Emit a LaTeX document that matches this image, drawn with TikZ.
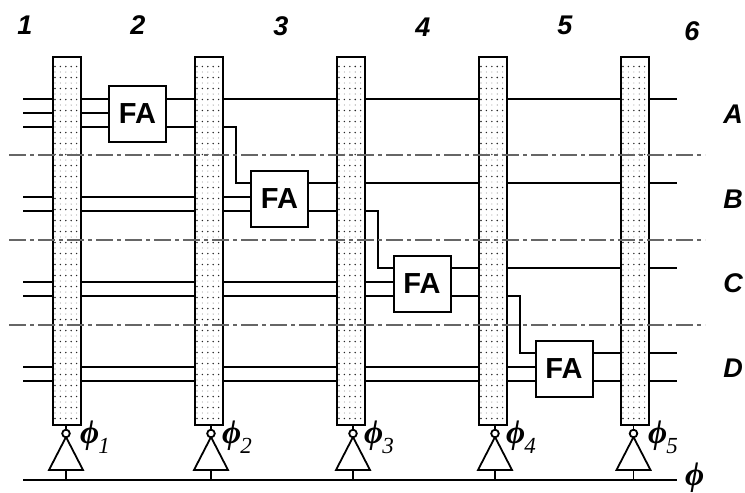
\documentclass[tikz,border=0pt]{standalone}
\usepackage{fontspec}
\setmainfont{Liberation Sans}
\newfontfamily\serifit{Liberation Serif}
\usetikzlibrary{backgrounds,calc}
\newcommand{\phiglyph}{{\serifit\bfseries\itshape\fontsize{33}{33}\selectfont ϕ}}
\newcommand{\phisub}[1]{\phiglyph\kern-1pt\raisebox{-10pt}{\serifit\itshape\fontsize{23}{23}\selectfont #1}}
\tikzset{
  x=1pt,y=-1pt,
  wire/.style={line width=1.9pt,line cap=butt},
  bar/.style={draw,line width=2pt,fill=white,minimum width=27.5pt,minimum height=367.5pt,inner sep=0pt,anchor=north west},
  fa/.style={draw,line width=2pt,fill=white,minimum width=57pt,minimum height=56pt,inner sep=0pt,anchor=north west,font=\bfseries\fontsize{29}{29}\selectfont},
  sep/.style={line width=1.2pt,black!60,dash pattern=on 17pt off 4pt on 4pt off 4pt},
  lab/.style={font=\bfseries\itshape\fontsize{27}{27}\selectfont,inner sep=0pt},
  inv/.style={line width=1.8pt,line join=miter},
  phil/.style={inner sep=0pt,anchor=west}
}
\begin{document}
\begin{tikzpicture}
\useasboundingbox (0,0) rectangle (745,493);
% bars
\foreach \n/\x in {1/52,2/194,3/336,4/478,5/620}{
  \node[bar] (bar\n) at (\x,56) {};
  \foreach \i in {0,...,32}{
    \foreach \j in {0,...,4}{
      \fill[black!85] ($(bar\n.north west)+(3+5.4*\j,10.5+11*\i)$) circle (.8);
      \ifnum\i<32 \fill[black!45] ($(bar\n.north west)+(3+5.4*\j,16+11*\i)$) circle (.55);\fi
    }
  }
}
% FA
\node[fa] (fa1) at (108,85) {FA};
\node[fa] (fa2) at (250,169.5) {FA};
\node[fa] (fa3) at (392.5,254.5) {FA};
\node[fa] (fa4) at (534.5,339.5) {FA};
% free ends
\foreach \n/\y in {a/99,b/113,c/127,e/197,f/211,h/282,i/296,k/367,l/381}
  \coordinate (l\n) at (23,\y);
\foreach \n/\y in {a/99,d/183,g/268,j/353,l/381,bus/480}
  \coordinate (r\n) at (677,\y);
\coordinate (lbus) at (23,480);
\coordinate (j1) at (236,183);
\coordinate (j2) at (378,268);
\coordinate (j3) at (520,353);
\begin{scope}[on background layer]
  \draw[wire] (la) -- (ra);
  \draw[wire] (lb) -- (lb -| fa1.west);
  \draw[wire] (lc) -- (lc -| fa1.west);
  \draw[wire] (fa1.east |- lc) -| (j1) -- (j1 -| fa2.west);
  \draw[wire] (le) -- (le -| fa2.west);
  \draw[wire] (lf) -- (lf -| fa2.west);
  \draw[wire] (fa2.east |- rd) -- (rd);
  \draw[wire] (fa2.east |- lf) -| (j2) -- (j2 -| fa3.west);
  \draw[wire] (lh) -- (lh -| fa3.west);
  \draw[wire] (li) -- (li -| fa3.west);
  \draw[wire] (fa3.east |- rg) -- (rg);
  \draw[wire] (fa3.east |- li) -| (j3) -- (j3 -| fa4.west);
  \draw[wire] (lk) -- (lk -| fa4.west);
  \draw[wire] (ll) -- (ll -| fa4.west);
  \draw[wire] (fa4.east |- rj) -- (rj);
  \draw[wire] (fa4.east |- rl) -- (rl);
\end{scope}
% separators
\foreach \y in {155,240,325}
  \draw[sep] (9,\y) -- (705,\y);
% inverters
\draw[wire] (lbus) -- (rbus);
\foreach \n/\x in {1/66,2/211,3/353,4/495,5/633.5}{
  \coordinate (bub\n) at (\x,433.5);
  \coordinate (base\n) at (\x,470);
  \draw[inv,fill=white] ($(base\n)+(-17,0)$) -- ($(bub\n)+(0,3.5)$) -- ($(base\n)+(17,0)$) -- cycle;
  \draw[inv,fill=white] (bub\n) circle (3.8);
  \draw[inv] (base\n) -- (base\n |- rbus);
  \draw[inv] (bub\n) ++(0,-3.8) -- (\x,424);
}
% phi labels
\foreach \n/\x in {1/80,2/222,3/364,4/506,5/648}
  \node[phil] (phi\n) at (\x,437) {\phisub{\n}};
\node[phil] (phi) at (685,478) {\phiglyph};
% numbers
\foreach \t/\x/\y in {1/25/25,2/138/25,3/281/26,4/423/27,5/565/25,6/692/31}
  \node[lab] (n\t) at (\x,\y) {\t};
\foreach \t/\y in {A/114,B/199,C/283,D/368}
  \node[lab] (row\t) at (733,\y) {\t};
\end{tikzpicture}
\end{document}
